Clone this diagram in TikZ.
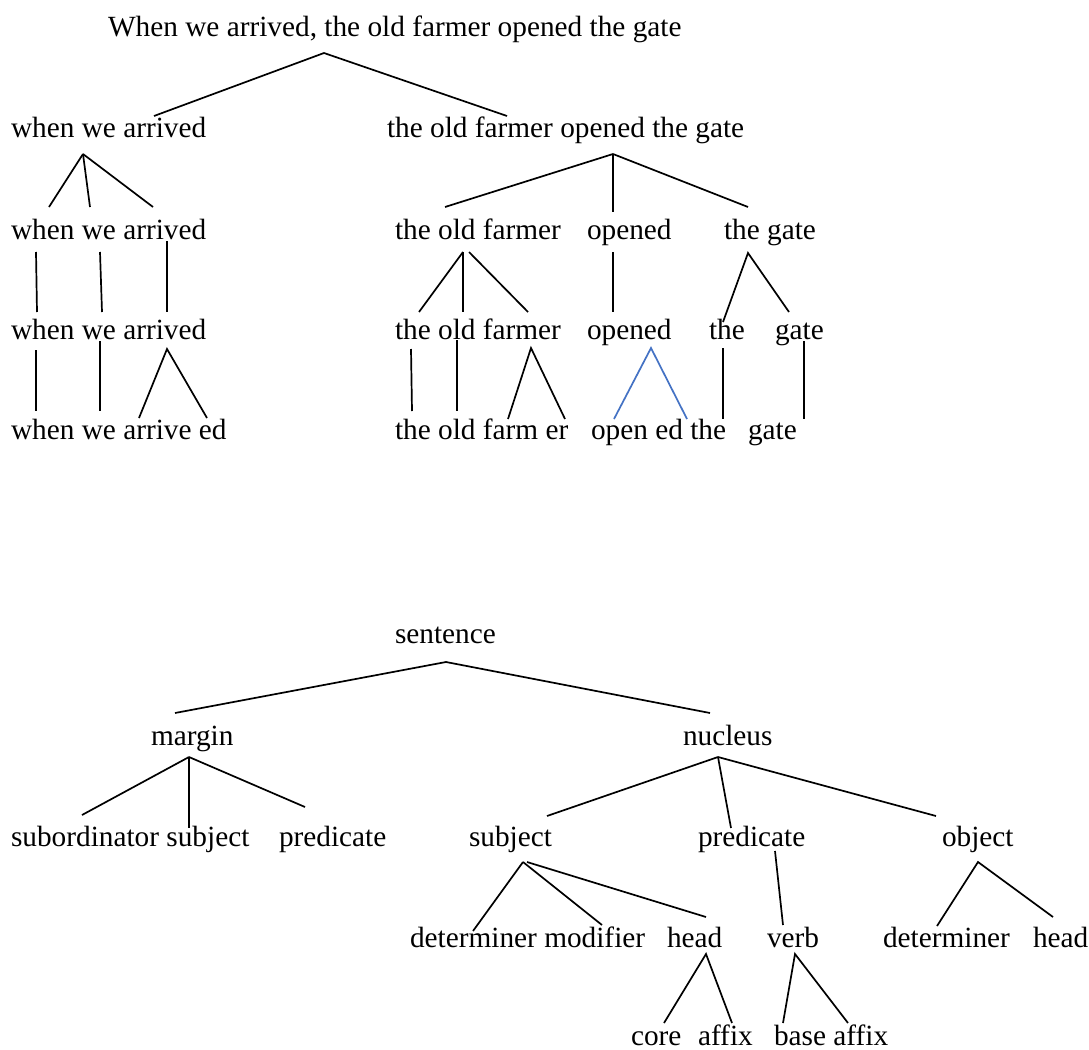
\documentclass[tikz,border=0pt]{standalone}
\usepackage{fontspec}
\setmainfont{Liberation Serif}
\begin{document}
\begin{tikzpicture}[x=1pt,y=-1pt,
  word/.style={anchor=base west,inner sep=0pt,outer sep=0pt,
    font=\fontsize{29.3}{35}\selectfont},
  branch/.style={line width=1.7pt,line cap=butt},
  morph/.style={branch,draw=morphblue}]
\definecolor{morphblue}{RGB}{68,114,196}
\fill[white] (0,0) rectangle (1089,1049);
\useasboundingbox (0,0) rectangle (1089,1049);

% ---------- analysis of the sentence into words and morphemes ----------
\node[word] (s0)   at (108,37)  {When we arrived, the old farmer opened the gate};
\node[word] (s1a)  at (11,137)  {when we arrived};
\node[word] (s1b)  at (387,137) {the old farmer opened the gate};
\node[word] (s2a)  at (11,239)  {when we arrived};
\node[word] (s2b)  at (395,239) {the old farmer};
\node[word] (s2c)  at (587,239) {opened};
\node[word] (s2d)  at (724,239) {the gate};
\node[word] (s3a)  at (11,339)  {when we arrived};
\node[word] (s3b)  at (395,339) {the old farmer};
\node[word] (s3c)  at (587,339) {opened};
\node[word] (s3d)  at (709,339) {the};
\node[word] (s3e)  at (775,339) {gate};
\node[word] (s4a)  at (11,439)  {when we arrive ed};
\node[word] (s4b)  at (395,439) {the old farm er};
\node[word] (s4c)  at (591,439) {open ed the};
\node[word] (s4d)  at (748,439) {gate};

% branch points
\coordinate (p0)   at (324,53);
\coordinate (p0l)  at (154,116);
\coordinate (p0r)  at (507,116);
\coordinate (p1a)  at (83,154);
\coordinate (p1a1) at (49,207);
\coordinate (p1a2) at (90,207);
\coordinate (p1a3) at (153,207);
\coordinate (p1b)  at (613,154);
\coordinate (p1b1) at (445,207);
\coordinate (p1b2) at (613,212);
\coordinate (p1b3) at (748,207);
\coordinate (w2a)  at (36,252);   \coordinate (w3a) at (37,312);
\coordinate (w2b)  at (100,252);  \coordinate (w3b) at (102,312);
\coordinate (w2c)  at (167,241);  \coordinate (w3c) at (167,312);
\coordinate (p2b)  at (463,252);
\coordinate (p2bx) at (469,252);
\coordinate (p2b1) at (419,312);
\coordinate (p2b2) at (463,312);
\coordinate (p2b3) at (528,312);
\coordinate (w2o)  at (613,252);  \coordinate (w3o) at (613,312);
\coordinate (p2d)  at (748,253);
\coordinate (p2d1) at (723,322);
\coordinate (p2d2) at (789,312);
\coordinate (m3a)  at (36,350);   \coordinate (m4a) at (36,411);
\coordinate (m3b)  at (100,341);  \coordinate (m4b) at (100,411);
\coordinate (p3c)  at (167,349);
\coordinate (p3c1) at (139,418);
\coordinate (p3c2) at (207,418);
\coordinate (m3d)  at (411,349);  \coordinate (m4d) at (412,411);
\coordinate (m3e)  at (457,340);  \coordinate (m4e) at (457,411);
\coordinate (p3f)  at (531,348);
\coordinate (p3f1) at (508,419);
\coordinate (p3f2) at (565,419);
\coordinate (p3g)  at (651,348);
\coordinate (p3g1) at (614,419);
\coordinate (p3g2) at (687,419);
\coordinate (m3h)  at (723,348);  \coordinate (m4h) at (723,419);
\coordinate (m3i)  at (804,341);  \coordinate (m4i) at (804,419);

\draw[branch] (p0l) -- (p0) -- (p0r);
\draw[branch] (p1a) -- (p1a1);
\draw[branch] (p1a) -- (p1a2);
\draw[branch] (p1a) -- (p1a3);
\draw[branch] (p1b) -- (p1b1);
\draw[branch] (p1b) -- (p1b2);
\draw[branch] (p1b) -- (p1b3);
\draw[branch] (w2a) -- (w3a);
\draw[branch] (w2b) -- (w3b);
\draw[branch] (w2c) -- (w3c);
\draw[branch] (p2b) -- (p2b1);
\draw[branch] (p2b) -- (p2b2);
\draw[branch] (p2bx) -- (p2b3);
\draw[branch] (w2o) -- (w3o);
\draw[branch] (p2d1) -- (p2d) -- (p2d2);
\draw[branch] (m3a) -- (m4a);
\draw[branch] (m3b) -- (m4b);
\draw[branch] (p3c1) -- (p3c) -- (p3c2);
\draw[branch] (m3d) -- (m4d);
\draw[branch] (m3e) -- (m4e);
\draw[branch] (p3f1) -- (p3f) -- (p3f2);
\draw[morph]  (p3g1) -- (p3g) -- (p3g2);
\draw[branch] (m3h) -- (m4h);
\draw[branch] (m3i) -- (m4i);

% ---------- the same analysis as grammatical functions ----------
\node[word] (g0)  at (395,643)  {sentence};
\node[word] (g1a) at (151,745)  {margin};
\node[word] (g1b) at (683,745)  {nucleus};
\node[word] (g2a) at (11,846)   {subordinator subject};
\node[word] (g2b) at (279,846)  {predicate};
\node[word] (g2c) at (469,846)  {subject};
\node[word] (g2d) at (698,846)  {predicate};
\node[word] (g2e) at (942,846)  {object};
\node[word] (g3a) at (410,947)  {determiner modifier};
\node[word] (g3b) at (667,947)  {head};
\node[word] (g3c) at (767,947)  {verb};
\node[word] (g3d) at (883,947)  {determiner};
\node[word] (g3e) at (1033,947) {head};
\node[word] (g4a) at (631,1045) {core};
\node[word] (g4b) at (698,1045) {affix};
\node[word] (g4c) at (774,1045) {base affix};

\coordinate (q0)   at (446,662);
\coordinate (q0l)  at (175,713);
\coordinate (q0r)  at (710,713);
\coordinate (q1a)  at (189,757);
\coordinate (q1a1) at (82,815);
\coordinate (q1a2) at (189,828);
\coordinate (q1a3) at (305,807);
\coordinate (q1b)  at (718,757);
\coordinate (q1b1) at (547,816);
\coordinate (q1b2) at (731,828);
\coordinate (q1b3) at (936,816);
\coordinate (q2c)  at (523,862);
\coordinate (q2cx) at (527,862);
\coordinate (q2c1) at (473,931);
\coordinate (q2c2) at (602,925);
\coordinate (q2c3) at (706,917);
\coordinate (q2d)  at (775,851);
\coordinate (q2d1) at (783,925);
\coordinate (q2e)  at (978,862);
\coordinate (q2e1) at (937,926);
\coordinate (q2e2) at (1053,917);
\coordinate (q3b)  at (706,954);
\coordinate (q3b1) at (664,1023);
\coordinate (q3b2) at (732,1023);
\coordinate (q3c)  at (795,954);
\coordinate (q3c1) at (783,1023);
\coordinate (q3c2) at (848,1023);

\draw[branch] (q0l) -- (q0) -- (q0r);
\draw[branch] (q1a) -- (q1a1);
\draw[branch] (q1a) -- (q1a2);
\draw[branch] (q1a) -- (q1a3);
\draw[branch] (q1b) -- (q1b1);
\draw[branch] (q1b) -- (q1b2);
\draw[branch] (q1b) -- (q1b3);
\draw[branch] (q2c) -- (q2c1);
\draw[branch] (q2c) -- (q2c2);
\draw[branch] (q2cx) -- (q2c3);
\draw[branch] (q2d) -- (q2d1);
\draw[branch] (q2e1) -- (q2e) -- (q2e2);
\draw[branch] (q3b1) -- (q3b) -- (q3b2);
\draw[branch] (q3c1) -- (q3c) -- (q3c2);
\end{tikzpicture}
\end{document}
